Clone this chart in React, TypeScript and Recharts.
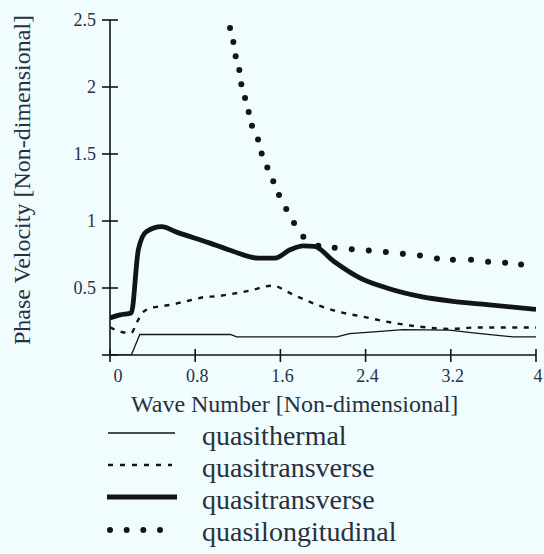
import { LineChart, Line, XAxis, YAxis } from "recharts";

// wave number / phase velocity
const thermalX = [0, 0.2, 0.28, 1.13, 1.19, 2.13, 2.25, 2.54, 2.75, 3.19, 3.41, 3.79, 4.0];
const thermalY = [0, 0, 0.153, 0.153, 0.135, 0.135, 0.16, 0.177, 0.19, 0.185, 0.165, 0.135, 0.135];

const transDashX = [0, 0.12, 0.2, 0.25, 0.3, 0.36, 0.47, 0.58, 0.67, 0.78, 0.89, 1.0, 1.1, 1.31, 1.52, 1.72, 1.94, 2.16, 2.38, 2.63, 2.88, 3.19, 3.44, 4.0];
const transDashY = [0.207, 0.17, 0.165, 0.24, 0.31, 0.344, 0.363, 0.376, 0.393, 0.413, 0.433, 0.438, 0.45, 0.48, 0.517, 0.45, 0.376, 0.32, 0.285, 0.244, 0.214, 0.195, 0.205, 0.205];

const transSolidX = [0, 0.094, 0.2, 0.266, 0.34, 0.485, 0.626, 0.94, 1.16, 1.39, 1.55, 1.69, 1.815, 1.92, 2.1, 2.35, 2.6, 2.91, 3.22, 3.54, 4.0];
const transSolidY = [0.277, 0.3, 0.314, 0.785, 0.92, 0.958, 0.917, 0.835, 0.772, 0.723, 0.723, 0.785, 0.815, 0.81, 0.7, 0.574, 0.5, 0.437, 0.4, 0.376, 0.34];

const longX = [1.127, 1.158, 1.18, 1.214, 1.233, 1.268, 1.302, 1.333, 1.39, 1.424, 1.477, 1.533, 1.587, 1.655, 1.728, 1.815, 1.956, 2.11, 2.27, 2.43, 2.59, 2.75, 2.91, 3.07, 3.22, 3.39, 3.55, 3.71, 3.86];
const longY = [2.44, 2.335, 2.23, 2.126, 2.02, 1.918, 1.814, 1.71, 1.608, 1.504, 1.4, 1.296, 1.194, 1.09, 0.986, 0.882, 0.815, 0.8, 0.79, 0.78, 0.768, 0.755, 0.743, 0.72, 0.71, 0.71, 0.696, 0.688, 0.676];

const xTicks = [0, 0.8, 1.6, 2.4, 3.2, 4];
const yTicks = [0, 0.5, 1, 1.5, 2, 2.5];

const legendLabels = ["quasithermal", "quasitransverse", "quasitransverse", "quasilongitudinal"];

const zip = (xs: number[], ys: number[]) => xs.map((x, i) => ({ x, y: ys[i] }));

const thermal = zip(thermalX, thermalY);
const transDash = zip(transDashX, transDashY);
const transSolid = zip(transSolidX, transSolidY);
const longitudinal = zip(longX, longY);

const INK = "#111418";
const TEXT = "#27313d";
const FONT = '"Liberation Serif", "Times New Roman", serif';

function XTick(props: any) {
  const { x, y, payload } = props;
  const dx = payload.value === 0 ? 8 : 2;
  return (
    <g>
      <line x1={x} x2={x} y1={y - 6} y2={y + 7} stroke={INK} strokeWidth={1.6} />
      <text x={x + dx} y={y + 27} textAnchor="middle" fontSize={18} fill={TEXT} fontFamily={FONT}>
        {String(payload.value)}
      </text>
    </g>
  );
}

function YTick(props: any) {
  const { x, y, payload } = props;
  return (
    <g>
      <line x1={x - 8} x2={x + 8} y1={y} y2={y} stroke={INK} strokeWidth={1.6} />
      {payload.value !== 0 && (
        <text x={x - 14} y={y + 6} textAnchor="end" fontSize={18} fill={TEXT} fontFamily={FONT}>
          {String(payload.value)}
        </text>
      )}
    </g>
  );
}

function Legend() {
  const rows = [0, 1, 2, 3];
  return (
    <svg width={544} height={140} style={{ position: "absolute", left: 0, top: 414 }}>
      {rows.map((i) => {
        const base = 31 + i * 32;
        const ly = base - 12;
        return (
          <g key={i}>
            {i === 0 && <line x1={108} x2={175} y1={ly} y2={ly} stroke={INK} strokeWidth={1.3} />}
            {i === 1 && (
              <line x1={108} x2={172} y1={ly} y2={ly} stroke={INK} strokeWidth={2.4} strokeDasharray="5 7" />
            )}
            {i === 2 && <line x1={107} x2={177} y1={ly} y2={ly} stroke={INK} strokeWidth={4.8} />}
            {i === 3 &&
              [110, 126.7, 143.3, 160].map((cx) => <circle key={cx} cx={cx} cy={ly + 1} r={3} fill={INK} />)}
            <text x={202} y={base} fontSize={28} fill={TEXT} fontFamily={FONT}>
              {legendLabels[i]}
            </text>
          </g>
        );
      })}
    </svg>
  );
}

export default function App() {
  return (
    <div
      style={{
        position: "fixed",
        left: 0,
        top: 0,
        width: 544,
        height: 554,
        background: "#f1fcff",
        fontFamily: FONT,
      }}
    >
      <LineChart width={544} height={554} margin={{ top: 20, right: 8, bottom: 0, left: 0 }}>
        <XAxis
          dataKey="x"
          type="number"
          domain={[0, 4]}
          ticks={xTicks}
          height={199}
          tickSize={0}
          tickMargin={0}
          tickLine={false}
          axisLine={{ stroke: INK, strokeWidth: 1.6 }}
          tick={<XTick />}
          allowDataOverflow
          label={{
            content: (p: any) => (
              <text x={p.viewBox.x + 21} y={p.viewBox.y + 57} fontSize={24} fill={TEXT} fontFamily={FONT}>
                Wave Number [Non-dimensional]
              </text>
            ),
          }}
        />
        <YAxis
          type="number"
          domain={[0, 2.5]}
          ticks={yTicks}
          width={110}
          tickSize={0}
          tickMargin={0}
          tickLine={false}
          axisLine={{ stroke: INK, strokeWidth: 1.6 }}
          tick={<YTick />}
          allowDataOverflow
          label={{
            content: (p: any) => {
              const cx = p.viewBox.x + 30;
              const cy = p.viewBox.y + 160;
              return (
                <text
                  x={cx}
                  y={cy}
                  transform={`rotate(-90, ${cx}, ${cy})`}
                  textAnchor="middle"
                  fontSize={24}
                  fill={TEXT}
                  fontFamily={FONT}
                >
                  Phase Velocity [Non-dimensional]
                </text>
              );
            },
          }}
        />
        <Line
          data={thermal}
          dataKey="y"
          type="linear"
          stroke={INK}
          strokeWidth={1.3}
          dot={false}
          activeDot={false}
          isAnimationActive={false}
        />
        <Line
          data={transDash}
          dataKey="y"
          type="monotone"
          stroke={INK}
          strokeWidth={2.4}
          strokeDasharray="5 6.5"
          dot={false}
          activeDot={false}
          isAnimationActive={false}
        />
        <Line
          data={transSolid}
          dataKey="y"
          type="monotone"
          stroke={INK}
          strokeWidth={4.8}
          strokeLinejoin="round"
          dot={false}
          activeDot={false}
          isAnimationActive={false}
        />
        <Line
          data={longitudinal}
          dataKey="y"
          type="linear"
          stroke="none"
          dot={{ r: 3, fill: INK, stroke: "none" }}
          activeDot={false}
          isAnimationActive={false}
        />
      </LineChart>
      <Legend />
    </div>
  );
}
